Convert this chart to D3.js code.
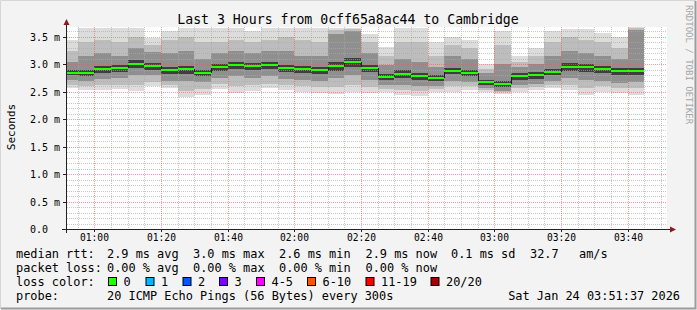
<!DOCTYPE html>
<html>
<head>
<meta charset="utf-8">
<script src="https://cdn.jsdelivr.net/npm/d3@7"></script>
<style>
  body { margin: 0; background: #f3f3f3; }
  svg text { font-family: "DejaVu Sans Mono", monospace; fill: #000; }
</style>
</head>
<body>
<div id="vis"></div>
<script>
// 5 minute steps (label = end of step), values in ms
var steps = ["00:55","01:00","01:05","01:10","01:15","01:20","01:25","01:30","01:35","01:40","01:45","01:50",
             "01:55","02:00","02:05","02:10","02:15","02:20","02:25","02:30","02:35","02:40","02:45","02:50",
             "02:55","03:00","03:05","03:10","03:15","03:20","03:25","03:30","03:35","03:40","03:45"];

var rttMedian = [2.85,2.85,2.92,2.93,3.01,2.97,2.90,2.92,2.85,2.95,2.99,2.97,2.99,2.93,2.92,2.90,2.97,3.04,
                 2.93,2.77,2.82,2.79,2.75,2.88,2.85,2.68,2.64,2.78,2.81,2.86,2.96,2.95,2.92,2.88,2.88];
var rttMax    = [3.45,3.67,3.66,3.66,3.66,3.48,3.60,3.66,3.66,3.66,3.66,3.60,3.66,3.66,3.66,3.66,3.66,3.66,
                 3.56,3.32,3.66,3.66,3.40,3.50,3.45,3.01,3.60,3.16,3.29,3.60,3.65,3.65,3.57,3.50,3.70];
var rttP90    = [3.25,3.40,3.45,3.40,3.50,3.35,3.45,3.50,3.40,3.40,3.45,3.40,3.45,3.50,3.45,3.40,3.63,3.64,
                 3.40,3.15,3.40,3.40,3.15,3.35,3.30,2.92,3.35,3.05,3.15,3.40,3.50,3.45,3.40,3.30,3.66];
var rttHigh   = [3.05,3.15,3.20,3.15,3.30,3.22,3.20,3.25,3.10,3.20,3.25,3.20,3.25,3.25,3.15,3.15,3.55,3.60,
                 3.20,2.98,3.10,3.05,2.95,3.15,3.10,2.85,3.00,2.95,3.00,3.15,3.25,3.20,3.15,3.10,3.62];
var rttCoreHi = [2.90,2.90,2.97,2.98,3.07,3.02,2.95,2.97,2.90,3.00,3.04,3.02,3.04,2.99,2.97,2.95,3.04,3.12,
                 2.99,2.82,2.90,2.85,2.80,2.94,2.90,2.72,2.70,2.84,2.86,2.92,3.02,3.00,2.97,2.93,2.94];
var rttCoreLo = [2.80,2.78,2.85,2.86,2.93,2.90,2.82,2.82,2.78,2.88,2.92,2.90,2.92,2.86,2.84,2.82,2.88,2.95,
                 2.86,2.72,2.76,2.72,2.70,2.82,2.79,2.62,2.58,2.72,2.74,2.80,2.88,2.86,2.84,2.80,2.80];
var rttLow    = [2.72,2.70,2.74,2.76,2.80,2.80,2.70,2.70,2.68,2.75,2.78,2.76,2.78,2.74,2.72,2.70,2.75,2.80,
                 2.72,2.62,2.62,2.60,2.60,2.70,2.68,2.56,2.52,2.62,2.64,2.70,2.75,2.72,2.70,2.66,2.68];
var rttP10    = [2.63,2.60,2.62,2.63,2.62,2.68,2.62,2.52,2.55,2.64,2.60,2.62,2.65,2.62,2.60,2.58,2.58,2.62,
                 2.58,2.55,2.53,2.52,2.55,2.60,2.60,2.53,2.50,2.56,2.58,2.62,2.62,2.56,2.60,2.57,2.56];
var rttMin    = [2.57,2.53,2.53,2.55,2.51,2.60,2.57,2.41,2.44,2.55,2.48,2.51,2.56,2.53,2.50,2.47,2.46,2.50,
                 2.47,2.49,2.44,2.43,2.50,2.50,2.53,2.50,2.46,2.50,2.53,2.56,2.53,2.45,2.50,2.47,2.45];

var yTicks = [0, 0.5, 1.0, 1.5, 2.0, 2.5, 3.0, 3.5];
var yTickLabels = ["0.0", "0.5 m", "1.0 m", "1.5 m", "2.0 m", "2.5 m", "3.0 m", "3.5 m"];

var lossLabels = ["0", "1", "2", "3", "4-5", "6-10", "11-19", "20/20"];
var lossColors = ["#26ff00", "#00b8ff", "#0059ff", "#7e00ff", "#ff00ff", "#ff5500", "#ff0000", "#a10000"];

var rttStats  = ["2.9 ms avg", "3.0 ms max", "2.6 ms min", "2.9 ms now", "0.1 ms sd", "32.7", "am/s"];
var lossStats = ["0.00 % avg", "0.00 % max", "0.00 % min", "0.00 % now"];

var w = 697, h = 310;
var day = "2026-01-24T";
var tEnd = new Date(day + "03:51:37Z");
var tStart = new Date(day + "00:51:37Z");
var stepMs = 5 * 60 * 1000;
var yTop = 3.68;

var x = d3.scaleUtc().domain([tStart, tEnd]).range([66.5, 666.5]);
var y = d3.scaleLinear().domain([0, yTop]).range([229, 27]);
var px = function(v) { return Math.round(x(v)); };
var py = function(v) { return Math.round(y(Math.min(v, yTop))); };

var svg = d3.select("#vis").append("svg")
    .attr("width", w).attr("height", h)
    .style("display", "block");

// frame
svg.append("rect").attr("width", w).attr("height", h).attr("fill", "#f3f3f3");
svg.append("path").attr("d", "M0.5,309 V0.5 H696").attr("fill", "none").attr("stroke", "#d6d6d6");
svg.append("path").attr("d", "M1,308.5 H695.5 V1").attr("fill", "none").attr("stroke", "#9c9c9c").attr("stroke-width", 2);

// plot canvas
svg.append("rect").attr("x", 67).attr("y", 27).attr("width", 600).attr("height", 202).attr("fill", "#fff");

var cols = steps.map(function(s, i) {
    var end = new Date(day + s + ":00Z");
    var start = new Date(Math.max(+tStart, +end - stepMs));
    return { i: i, x0: px(start), x1: px(end) };
});

// smoke, outer pings lightest
var bands = [
    { lo: rttMin,    hi: rttMax,    color: "#dcdcdc" },
    { lo: rttP10,    hi: rttP90,    color: "#bdbdbd" },
    { lo: rttLow,    hi: rttHigh,   color: "#8f8f8f" },
    { lo: rttCoreLo, hi: rttCoreHi, color: "#3e3e3e" }
];
var smoke = svg.append("g").attr("shape-rendering", "crispEdges");
bands.forEach(function(b) {
    smoke.selectAll(null)
        .data(cols)
        .enter()
        .append("rect")
        .attr("x", function(d) { return d.x0; })
        .attr("width", function(d) { return d.x1 - d.x0; })
        .attr("y", function(d) { return py(b.hi[d.i]); })
        .attr("height", function(d) { return py(b.lo[d.i]) - py(b.hi[d.i]); })
        .attr("fill", b.color);
});

// grid (drawn on top like rrdtool)
var grid = svg.append("g").attr("shape-rendering", "crispEdges").attr("fill", "none");
var minorY = d3.range(1, 37).map(function(k) { return k / 10; }).filter(function(v) { return Math.round(v * 10) % 5 != 0; });
grid.selectAll(null).data(minorY).enter().append("line")
    .attr("x1", 67).attr("x2", 667)
    .attr("y1", function(d) { return py(d) + 0.5; })
    .attr("y2", function(d) { return py(d) + 0.5; })
    .attr("stroke", "rgba(170,170,170,0.65)").attr("stroke-dasharray", "1,1");
var minorX = d3.utcMinute.every(5).range(tStart, tEnd).filter(function(t) { return t.getUTCMinutes() % 20 != 0; });
grid.selectAll(null).data(minorX).enter().append("line")
    .attr("x1", function(d) { return px(d) + 0.5; })
    .attr("x2", function(d) { return px(d) + 0.5; })
    .attr("y1", 27).attr("y2", 229)
    .attr("stroke", "rgba(170,170,170,0.65)").attr("stroke-dasharray", "1,1");
grid.selectAll(null).data(yTicks.slice(1)).enter().append("line")
    .attr("x1", 67).attr("x2", 667)
    .attr("y1", function(d) { return py(d) + 0.5; })
    .attr("y2", function(d) { return py(d) + 0.5; })
    .attr("stroke", "rgba(240,90,90,0.6)").attr("stroke-dasharray", "1,1");
var majorX = x.ticks(d3.utcMinute.every(20));
grid.selectAll(null).data(majorX).enter().append("line")
    .attr("x1", function(d) { return px(d) + 0.5; })
    .attr("x2", function(d) { return px(d) + 0.5; })
    .attr("y1", 27).attr("y2", 229)
    .attr("stroke", "rgba(240,90,90,0.6)").attr("stroke-dasharray", "1,1");

// median: dark step connectors + loss coloured segments
var med = svg.append("g").attr("shape-rendering", "crispEdges");
med.selectAll(null)
    .data(cols.slice(1))
    .enter()
    .append("line")
    .attr("x1", function(d) { return d.x0 + 0.5; })
    .attr("x2", function(d) { return d.x0 + 0.5; })
    .attr("y1", function(d) { return py(rttMedian[d.i - 1]); })
    .attr("y2", function(d) { return py(rttMedian[d.i]); })
    .attr("stroke", "#202020");
med.selectAll(null)
    .data(cols)
    .enter()
    .append("rect")
    .attr("x", function(d) { return d.x0; })
    .attr("width", function(d) { return d.x1 - d.x0; })
    .attr("y", function(d) { return py(rttMedian[d.i]) - 1; })
    .attr("height", 2)
    .attr("fill", lossColors[0]);

// axes
var axis = svg.append("g").attr("shape-rendering", "crispEdges");
axis.append("line").attr("x1", 62).attr("x2", 671).attr("y1", 229.5).attr("y2", 229.5).attr("stroke", "#222");
axis.append("line").attr("x1", 66.5).attr("x2", 66.5).attr("y1", 233).attr("y2", 23).attr("stroke", "#222");
axis.selectAll(null).data(yTicks).enter().append("line")
    .attr("x1", 63).attr("x2", 66)
    .attr("y1", function(d) { return py(d) + 0.5; })
    .attr("y2", function(d) { return py(d) + 0.5; })
    .attr("stroke", "#222");
axis.selectAll(null).data(majorX).enter().append("line")
    .attr("x1", function(d) { return px(d) + 0.5; })
    .attr("x2", function(d) { return px(d) + 0.5; })
    .attr("y1", 230).attr("y2", 232)
    .attr("stroke", "#222");
svg.append("path").attr("d", "M63.5,25 L66.5,19 L69.5,25 Z").attr("fill", "#8b1a1a");
svg.append("path").attr("d", "M670,226.5 L676,229.5 L670,232.5 Z").attr("fill", "#8b1a1a");

// tick labels
svg.selectAll(null).data(yTicks).enter().append("text")
    .attr("x", 30)
    .attr("y", function(d) { return py(d) + 3.5; })
    .attr("font-size", "10px")
    .text(function(d, i) { return yTickLabels[i]; });
svg.selectAll(null).data(majorX).enter().append("text")
    .attr("x", function(d) { return px(d) + 0.5; })
    .attr("y", 240.5)
    .attr("text-anchor", "middle")
    .attr("font-size", "9.6px")
    .text(d3.utcFormat("%H:%M"));

// titles
svg.append("text").attr("x", 348).attr("y", 24).attr("text-anchor", "middle")
    .attr("font-size", "13.2px").text("Last 3 Hours from 0cff65a8ac44 to Cambridge");
svg.append("text").attr("transform", "translate(14.5,127) rotate(-90)").attr("text-anchor", "middle")
    .attr("font-size", "11px").text("Seconds");
svg.append("text").attr("transform", "translate(686,5) rotate(90)")
    .attr("font-size", "9px").style("fill", "#a6a6a6").text("RRDTOOL / TOBI OETIKER");

// legend
var fs = "11.9px";
var statX = [107, 193, 279, 365.5, 451, 530, 579];
var rowY = [258, 272, 286, 300];
var legend = svg.append("g").attr("font-size", fs);
legend.append("text").attr("x", 16).attr("y", rowY[0]).text("median rtt:");
legend.selectAll(null).data(rttStats).enter().append("text")
    .attr("x", function(d, i) { return statX[i]; }).attr("y", rowY[0]).text(function(d) { return d; });
legend.append("text").attr("x", 16).attr("y", rowY[1]).text("packet loss:");
legend.selectAll(null).data(lossStats).enter().append("text")
    .attr("x", function(d, i) { return statX[i]; }).attr("y", rowY[1]).text(function(d) { return d; });
legend.append("text").attr("x", 16).attr("y", rowY[2]).text("loss color:");
var boxX = [108, 145.5, 182.5, 219, 256, 307, 365.5, 430.5];
legend.selectAll(null).data(lossColors).enter().append("rect")
    .attr("x", function(d, i) { return boxX[i] + 0.5; })
    .attr("y", rowY[2] - 8.5)
    .attr("width", 8).attr("height", 8)
    .attr("fill", function(d) { return d; })
    .attr("stroke", "#000");
legend.selectAll(null).data(lossLabels).enter().append("text")
    .attr("x", function(d, i) { return boxX[i] + 15.5; }).attr("y", rowY[2]).text(function(d) { return d; });
legend.append("text").attr("x", 16).attr("y", rowY[3]).text("probe:");
legend.append("text").attr("x", 107).attr("y", rowY[3]).text("20 ICMP Echo Pings (56 Bytes) every 300s");
legend.append("text").attr("x", 680).attr("y", rowY[3]).attr("text-anchor", "end").text("Sat Jan 24 03:51:37 2026");
</script>
</body>
</html>
